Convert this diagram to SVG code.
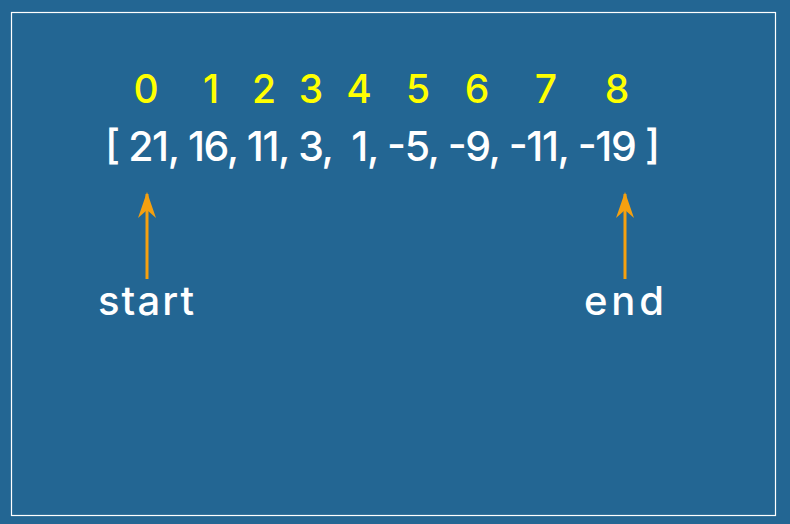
<svg xmlns="http://www.w3.org/2000/svg" width="790" height="524" viewBox="0 0 790 524">
<style>
.idx{font-family:Inter,"DejaVu Sans",sans-serif;font-size:39px;font-weight:500;fill:#ffff00;text-anchor:middle}
.arr{font-family:Inter,"DejaVu Sans",sans-serif;font-size:41px;font-weight:500;fill:#ffffff}
.lbl{font-family:Inter,"DejaVu Sans",sans-serif;font-size:40px;font-weight:500;fill:#ffffff}
.conn{stroke:#f5a00f;stroke-width:3;fill:none}
</style>
<defs>
<marker id="ah" viewBox="0 0 26 18" refX="24" refY="9" markerWidth="26" markerHeight="18" markerUnits="userSpaceOnUse" orient="auto">
<path d="M26 9 L0 0 L8 9 L0 18 Z" fill="#f5a00f"/>
</marker>
</defs>
<rect x="0" y="0" width="790" height="524" fill="#236693"/>
<rect x="11.5" y="12.5" width="764" height="503" fill="none" stroke="#ffffff" stroke-width="1.2"/>
<g id="indices">
<text class="idx" x="146" y="103">0</text>
<text class="idx" x="211" y="103">1</text>
<text class="idx" x="264" y="103">2</text>
<text class="idx" x="311" y="103">3</text>
<text class="idx" x="359" y="103">4</text>
<text class="idx" x="418" y="103">5</text>
<text class="idx" x="477" y="103">6</text>
<text class="idx" x="546" y="103">7</text>
<text class="idx" x="617" y="103">8</text>
</g>
<g id="array">
<text class="arr" x="105" y="161" xml:space="preserve" textLength="555" lengthAdjust="spacing">[ 21, 16, 11, 3,  1, -5, -9, -11, -19 ]</text>
</g>
<g id="connectors">
<line class="conn" x1="147" y1="279" x2="147" y2="194" marker-end="url(#ah)"/>
<line class="conn" x1="625" y1="279" x2="625" y2="194" marker-end="url(#ah)"/>
</g>
<g id="start">
<text class="lbl" x="98" y="315" textLength="96" lengthAdjust="spacing">start</text>
</g>
<g id="end">
<text class="lbl" x="584" y="315" textLength="80" lengthAdjust="spacing">end</text>
</g>
</svg>
